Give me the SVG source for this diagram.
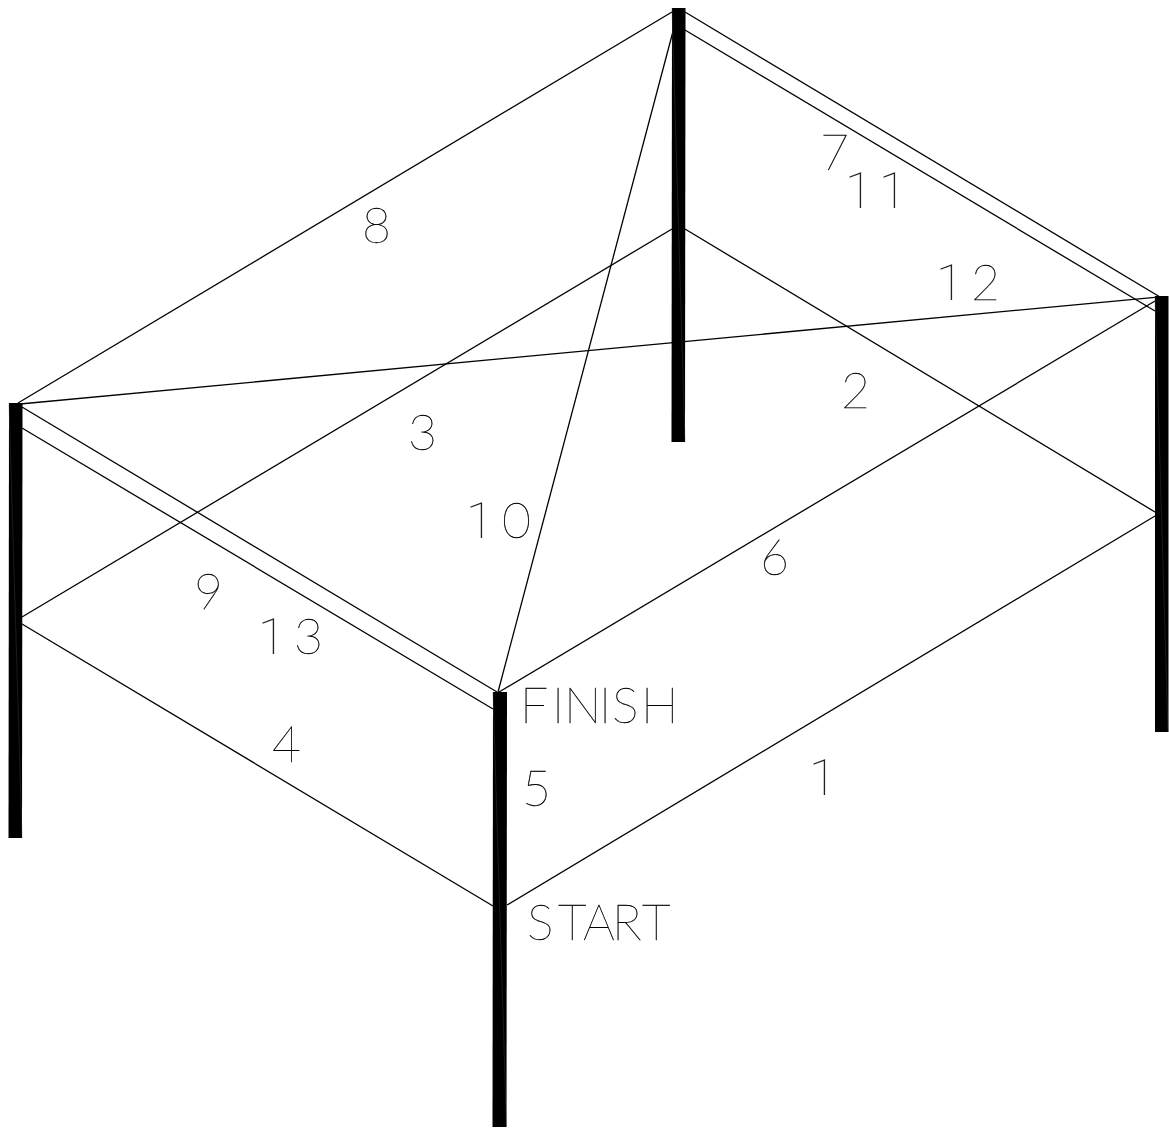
<svg xmlns="http://www.w3.org/2000/svg" width="1169" height="1128" viewBox="0 0 1169 1128">
<style>
.w{stroke:#000;stroke-width:1.3;fill:none}
.p{fill:#000}
.s{stroke:#444;stroke-width:.4;fill:none}
text{font-family:"Lato","Liberation Sans",sans-serif;font-weight:100;font-size:50px;fill:#000;stroke:#000;stroke-width:.35}
.o{font-family:"Roboto","Lato",sans-serif;font-weight:100;stroke:none;fill:#222}
</style>
<rect width="1169" height="1128" fill="#fff"/>
<g id="connectors">
<line class="w" x1="672" y1="12" x2="18" y2="403"/>
<line class="w" x1="685" y1="12" x2="1160" y2="297"/>
<line class="w" x1="685" y1="30" x2="1155" y2="311"/>
<line class="w" x1="1155" y1="297.300" x2="20" y2="404"/>
<line class="w" x1="1155" y1="301" x2="499" y2="692"/>
<line class="w" x1="676" y1="20" x2="498" y2="692"/>
<line class="w" x1="22" y1="407" x2="497" y2="692"/>
<line class="w" x1="22" y1="428" x2="493" y2="709"/>
<line class="w" x1="672" y1="229" x2="22" y2="617"/>
<line class="w" x1="685" y1="229" x2="1155" y2="512"/>
<line class="w" x1="1155" y1="516" x2="507" y2="905"/>
<line class="w" x1="22" y1="624" x2="493" y2="906"/>
</g>
<g id="post-back"><polygon class="p" points="672,8 685.500,8 685,442 671.500,442"/><line class="s" x1="672" y1="8" x2="685" y2="442"/></g>
<g id="post-right"><polygon class="p" points="1155,296 1168.500,296 1168.500,732 1155,732"/><line class="s" x1="1155" y1="296" x2="1168" y2="732"/></g>
<g id="post-left"><polygon class="p" points="9,403 22.500,403 22,838 8.500,838"/><line class="s" x1="9" y1="403" x2="22" y2="838"/></g>
<g id="post-front"><polygon class="p" points="493,692 507,692 506.500,1127 492.500,1127"/><line class="s" x1="493" y1="692" x2="506.500" y2="1127"/></g>
<g id="labels">
<text x="520 552 564 599 612 641" y="723">FINISH</text>
<text x="527 558 583 612 642" y="940">START</text>
<text x="522" y="806">5</text>
<text class="o" x="809" y="795">1</text>
<text x="841" y="408">2</text>
<text x="408" y="450">3</text>
<text x="272" y="762">4</text>
<text x="760" y="575">6</text>
<text x="820" y="170">7</text>
<text x="362" y="243">8</text>
<text x="194" y="609">9</text>
<text y="538"><tspan class="o" x="466">1</tspan><tspan x="502">0</tspan></text>
<text class="o" x="845 879" y="208">11</text>
<text y="300"><tspan class="o" x="936">1</tspan><tspan x="971">2</tspan></text>
<text y="654"><tspan class="o" x="258">1</tspan><tspan x="294">3</tspan></text>
</g>
</svg>
